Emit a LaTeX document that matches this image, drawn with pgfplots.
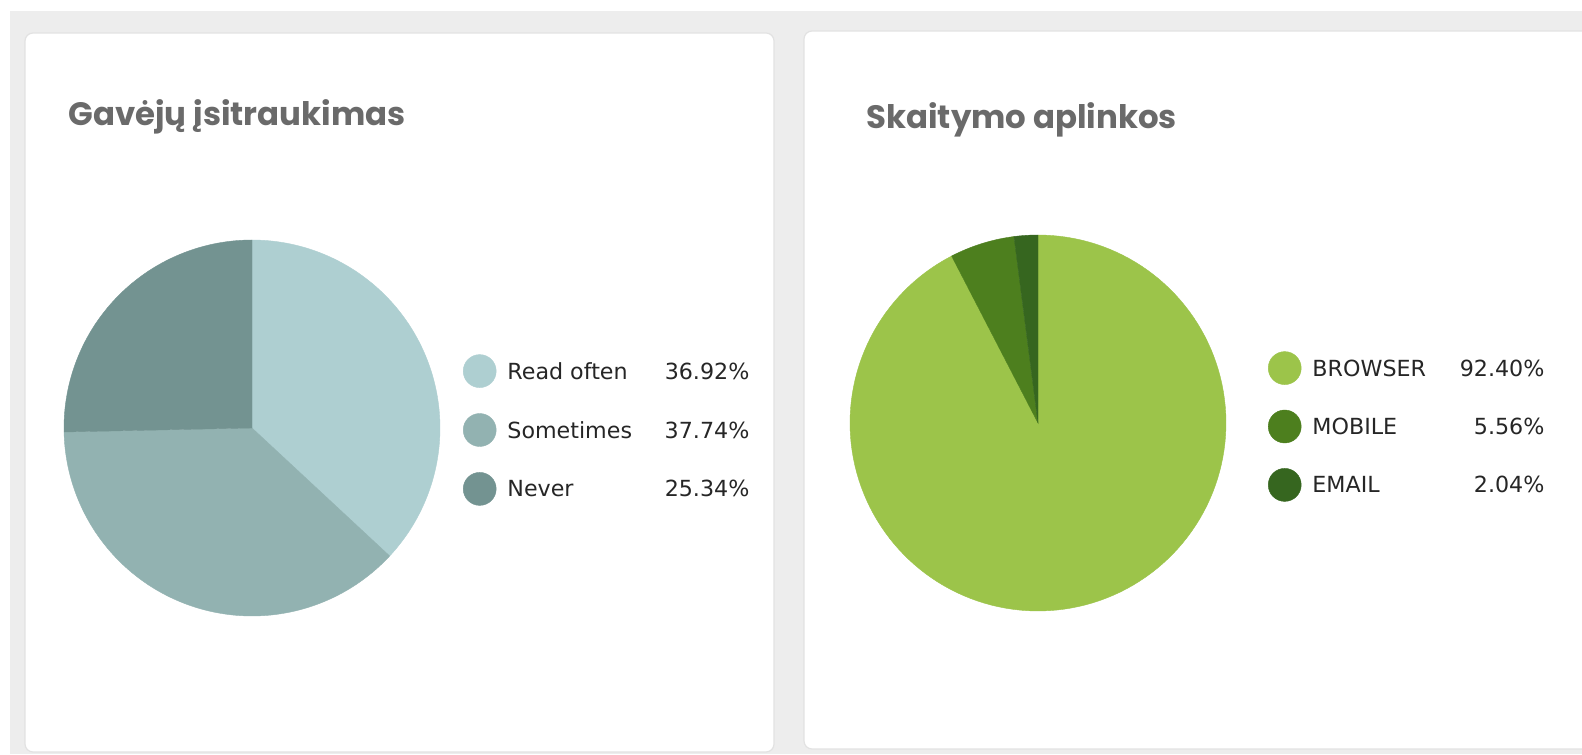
\documentclass[border=0pt]{standalone}
\usepackage{fontspec}
\usepackage{pgfplots}
\pgfplotsset{compat=1.18}
\newfontfamily\titlefont{Poppins}
\newfontfamily\legfont{DejaVu Sans}
\definecolor{bg}{HTML}{EDEDED}
\definecolor{cardedge}{HTML}{E2E2E2}
\definecolor{titlegray}{HTML}{6A6A6A}
\definecolor{legtext}{HTML}{262626}
\definecolor{readoften}{HTML}{AECFD1}
\definecolor{sometimes}{HTML}{92B2B1}
\definecolor{never}{HTML}{739391}
\definecolor{browser}{HTML}{9CC44A}
\definecolor{mobile}{HTML}{4D7F1E}
\definecolor{email}{HTML}{36661F}
% #1 = cumulative percent before slice, #2 = slice percent, #3 = colour
\newcommand{\pieslice}[3]{%
  \addplot[fill=#3, draw=#3, line width=0.2pt, domain={90-3.6*(#1+#2)}:{90-3.6*(#1)}, samples=150,
    legend image code/.code={\fill[#3] (8.25pt,0pt) circle (8.25pt);}]
    ({cos(x)},{sin(x)}) -- (axis cs:0,0) -- cycle;
}
\pgfplotsset{
  pieaxis/.style={width=188pt, height=188pt, scale only axis, hide axis,
    xmin=-1, xmax=1, ymin=-1, ymax=1, clip=false,
    legend cell align=left,
    legend style={at={(1,0.5)}, anchor=west, draw=none, fill=none,
      inner sep=0pt, outer sep=0pt, column sep=0pt,
      font=\legfont\fontsize{11.1}{13}\selectfont,
      nodes={inner sep=0pt, text height=8.05pt, text depth=0pt, text=legtext}}},
}
\begin{document}
\begin{tikzpicture}[x=1pt,y=1pt]
\useasboundingbox (0,0) rectangle (791,377);
\fill[white] (0,0) rectangle (791,377);
\fill[bg] (5,0) rectangle (791,371.5);
\fill[white, draw=cardedge, line width=0.6pt, rounded corners=4pt] (12.5,1) rectangle (387,360.5);
\fill[white, draw=cardedge, line width=0.6pt, rounded corners=4pt] (402,2.5) rectangle (810,361.5);
\node[anchor=base west, inner sep=0pt, text=titlegray, font=\titlefont\bfseries\fontsize{16.2}{20}\selectfont] at (34,314) {Gavėjų įsitraukimas};
\node[anchor=base west, inner sep=0pt, text=titlegray, font=\titlefont\bfseries\fontsize{16.2}{20}\selectfont] at (433,312.5) {Skaitymo aplinkos};

\begin{axis}[pieaxis, at={(32pt,69pt)}, anchor=south west,
  legend style={xshift=11.5pt, yshift=-1pt, row sep=12.75pt}]
\pieslice{0}{36.92}{readoften}
\addlegendentry{\hspace*{5.5pt}\makebox[121pt][l]{Read often\hfill 36.92\%}}
\pieslice{36.92}{37.74}{sometimes}
\addlegendentry{\hspace*{5.5pt}\makebox[121pt][l]{Sometimes\hfill 37.74\%}}
\pieslice{74.66}{25.34}{never}
\addlegendentry{\hspace*{5.5pt}\makebox[121pt][l]{Never\hfill 25.34\%}}
\end{axis}

\begin{axis}[pieaxis, at={(425pt,71.5pt)}, anchor=south west,
  legend style={xshift=21pt, yshift=-1.75pt, row sep=12.5pt}]
\pieslice{0}{92.40}{browser}
\addlegendentry{\hspace*{5.5pt}\makebox[116pt][l]{BROWSER\hfill 92.40\%}}
\pieslice{92.40}{5.56}{mobile}
\addlegendentry{\hspace*{5.5pt}\makebox[116pt][l]{MOBILE\hfill 5.56\%}}
\pieslice{97.96}{2.04}{email}
\addlegendentry{\hspace*{5.5pt}\makebox[116pt][l]{EMAIL\hfill 2.04\%}}
\end{axis}
\end{tikzpicture}
\end{document}
